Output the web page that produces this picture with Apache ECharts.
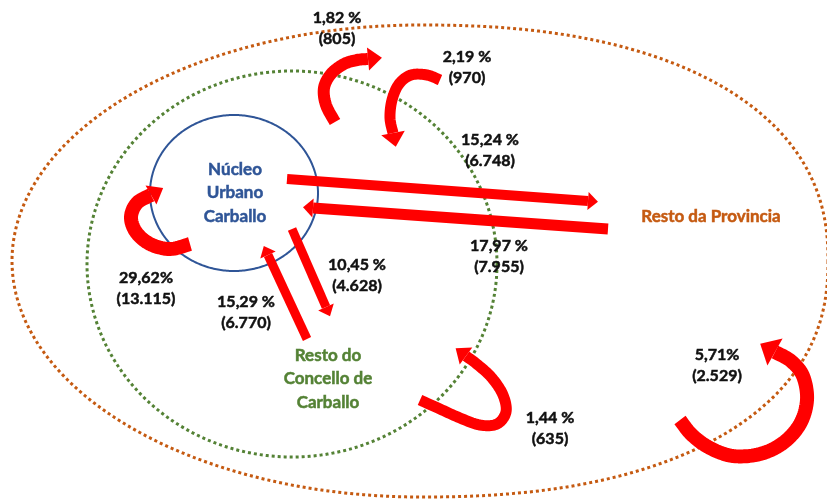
<!DOCTYPE html>
<html>
<head>
<meta charset="utf-8">
<script src="https://cdn.jsdelivr.net/npm/echarts@6/dist/echarts.min.js"></script>
<style>
html, body { margin: 0; padding: 0; background: #fff; }
#chart { width: 827px; height: 500px; }
</style>
</head>
<body>
<div id="chart"></div>
<script>
// --- zonas ---
const zoneNames = ['Núcleo\nUrbano\nCarballo', 'Resto do\nConcello de\nCarballo', 'Resto da Provincia'];
const zoneColors = ['#2F5597', '#548235', '#C55A11'];

// --- fluxos (porcentaxe / persoas) ---
const flowPct = ['1,82 %', '2,19 %', '15,24 %', '17,97 %', '29,62%', '10,45 %', '15,29 %', '1,44 %', '5,71%'];
const flowCount = ['(805)', '(970)', '(6.748)', '(7.955)', '(13.115)', '(4.628)', '(6.770)', '(635)', '(2.529)'];

// --- layout (unidades do eixo = px) ---
const zoneShapes = [[234, 193, 84, 78], [292, 264, 205, 193], [420, 261, 408, 236]]; // cx, cy, rx, ry
const zoneExp = [[2, 2], [2, 2], [2, 2.3]]; // expoente metade esquerda / dereita
const zoneLabelPos = [[235, 193], [328, 379], [711, 217]];
const flowLabelPos = [[337, 28], [467, 67], [490, 150], [499, 256], [146, 288], [357, 275], [246, 312], [550, 428], [717, 365]];

const arrowPaths = [
    [[335, 122], [326, 105], [324, 88], [331, 74], [344, 64], [357, 60], [368, 59]],
    [[440, 80], [427, 75], [411, 75], [399, 84], [392, 100], [390, 118], [393, 133]],
    [[287, 179], [588, 201]],
    [[608, 229], [313, 208]],
    [[190, 244], [170, 249], [150, 244], [136, 232], [131, 217], [137, 203], [151, 195]],
    [[292, 229], [326, 307]],
    [[307, 339], [268, 255]],
    [[420, 400], [440, 409], [460, 418], [480, 425], [497, 424], [506, 412], [503, 395], [492, 378], [478, 365], [466, 356]],
    [[680, 420], [692, 435], [710, 448], [733, 456], [760, 454], [783, 443], [800, 424], [807, 400], [803, 376], [791, 361], [775, 352]]
];
const arrowWidths = [12, 11, 10, 11, 14, 9, 9, 11, 14];
const headWidths = [23, 24, 18, 19, 22, 17, 17, 21, 31];
const headLengths = [14, 14, 10, 10, 14, 10, 10, 13, 17];

const RED = '#FF0000';
const FONT = 'Lato, "Open Sans", sans-serif';

// curva suave polos puntos (Catmull-Rom)
function suavizar(pts, steps) {
    if (pts.length < 3) return pts;
    const out = [];
    for (let i = 0; i < pts.length - 1; i++) {
        const p0 = pts[Math.max(i - 1, 0)], p1 = pts[i], p2 = pts[i + 1], p3 = pts[Math.min(i + 2, pts.length - 1)];
        for (let s = 0; s < steps; s++) {
            const t = s / steps, t2 = t * t, t3 = t2 * t;
            out.push([0, 1].map(k => 0.5 * (2 * p1[k] + (-p0[k] + p2[k]) * t +
                (2 * p0[k] - 5 * p1[k] + 4 * p2[k] - p3[k]) * t2 +
                (-p0[k] + 3 * p1[k] - 3 * p2[k] + p3[k]) * t3)));
        }
    }
    out.push(pts[pts.length - 1]);
    return out;
}

// contorno (super)elipse
function contorno(z, e) {
    const pts = [];
    for (let k = 0; k < 360; k++) {
        const a = k * Math.PI / 180, c = Math.cos(a), s = Math.sin(a);
        const n = c >= 0 ? e[1] : e[0];
        pts.push([z[0] + z[2] * Math.sign(c) * Math.pow(Math.abs(c), 2 / n),
                  z[1] + z[3] * Math.sign(s) * Math.pow(Math.abs(s), 2 / n)]);
    }
    return pts;
}

const chart = echarts.init(document.getElementById('chart'));

chart.setOption({
    animation: false,
    grid: { left: 0, right: 0, top: 0, bottom: 0 },
    xAxis: { type: 'value', min: 0, max: 827, show: false },
    yAxis: { type: 'value', min: 0, max: 500, inverse: true, show: false },
    series: [
        {
            // contornos das zonas
            type: 'custom',
            z: 1,
            data: zoneShapes.map(z => [z[0], z[1]]),
            renderItem: (params, api) => {
                const i = params.dataIndex;
                const solid = i === 0;
                return {
                    type: 'polygon',
                    shape: { points: contorno(zoneShapes[i], zoneExp[i]).map(p => api.coord(p)) },
                    style: {
                        fill: 'none',
                        stroke: zoneColors[i],
                        lineWidth: solid ? 2 : 3,
                        lineDash: solid ? null : [3, 3]
                    }
                };
            }
        },
        {
            // frechas
            type: 'custom',
            z: 2,
            data: arrowPaths.map(p => p[0]),
            renderItem: (params, api) => {
                const i = params.dataIndex;
                const pts = arrowPaths[i].map(p => api.coord(p));
                const line = suavizar(pts, 10);
                const end = pts[pts.length - 1], prev = pts[pts.length - 2];
                let dx = end[0] - prev[0], dy = end[1] - prev[1];
                const len = Math.hypot(dx, dy);
                dx /= len; dy /= len;
                const hw = headWidths[i] / 2, hl = headLengths[i];
                return {
                    type: 'group',
                    children: [
                        {
                            type: 'polyline',
                            shape: { points: line },
                            style: { fill: 'none', stroke: RED, lineWidth: arrowWidths[i], lineJoin: 'round', lineCap: 'butt' }
                        },
                        {
                            type: 'polygon',
                            shape: { points: [
                                [end[0] - dy * hw, end[1] + dx * hw],
                                [end[0] + dy * hw, end[1] - dx * hw],
                                [end[0] + dx * hl, end[1] + dy * hl]
                            ] },
                            style: { fill: RED }
                        }
                    ]
                };
            }
        },
        {
            // nomes das zonas
            type: 'custom',
            z: 3,
            data: zoneLabelPos,
            renderItem: (params, api) => {
                const c = api.coord([api.value(0), api.value(1)]);
                return {
                    type: 'text',
                    x: c[0], y: c[1],
                    style: {
                        text: zoneNames[params.dataIndex],
                        fill: zoneColors[params.dataIndex],
                        stroke: zoneColors[params.dataIndex],
                        lineWidth: 0.5,
                        font: 'bold 17px ' + FONT,
                        lineHeight: 23.5,
                        align: 'center',
                        verticalAlign: 'middle'
                    }
                };
            }
        },
        {
            // etiquetas dos fluxos
            type: 'custom',
            z: 3,
            data: flowLabelPos,
            renderItem: (params, api) => {
                const c = api.coord([api.value(0), api.value(1)]);
                return {
                    type: 'text',
                    x: c[0], y: c[1],
                    style: {
                        text: flowPct[params.dataIndex] + '\n' + flowCount[params.dataIndex],
                        fill: '#111',
                        stroke: '#111',
                        lineWidth: 0.5,
                        font: 'bold 16px ' + FONT,
                        lineHeight: 21,
                        align: 'center',
                        verticalAlign: 'middle'
                    }
                };
            }
        }
    ]
});

window.addEventListener('resize', () => chart.resize());
</script>
</body>
</html>
